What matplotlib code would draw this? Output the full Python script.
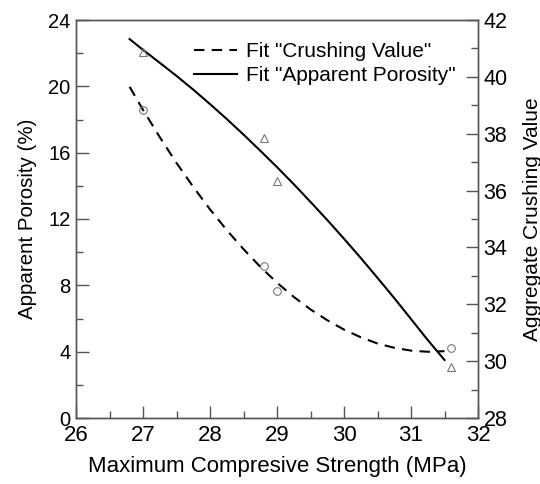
import numpy as np
import matplotlib
matplotlib.use('Agg')
import matplotlib.pyplot as plt
from matplotlib.ticker import MultipleLocator

plt.rcParams['font.family'] = ['Liberation Sans', 'DejaVu Sans']

# measured points
strength = [27.0, 28.8, 29.0, 31.6]
porosity = [22.1, 16.9, 14.3, 3.05]
crushing = [38.85, 33.35, 32.45, 30.45]

# fit curves
fit_x = [26.8, 27.0, 27.25, 27.5, 27.75, 28.0, 28.25, 28.5, 28.75, 29.0, 29.25,
         29.5, 29.75, 30.0, 30.25, 30.5, 30.75, 31.0, 31.25, 31.5]
fit_por = [22.85, 22.2, 21.42, 20.63, 19.8, 18.93, 18.03, 17.09, 16.12, 15.13, 14.1,
           13.03, 11.94, 10.81, 9.65, 8.45, 7.23, 5.97, 4.7, 3.5]
fit_cru = [39.65, 38.84, 37.88, 36.97, 36.13, 35.34, 34.61, 33.94, 33.32, 32.76, 32.26,
           31.82, 31.44, 31.11, 30.84, 30.62, 30.47, 30.37, 30.33, 30.35]

gray = '#555555'

fig = plt.figure(figsize=(5.4, 4.84), dpi=100)
ax = fig.add_axes([76/540, 1-418/484, (478-76)/540, (418-20)/484])
ax2 = ax.twinx()

l1, = ax2.plot(fit_x, fit_cru, color='black', lw=1.5, ls=(0, (5, 3.5)),
               label='Fit "Crushing Value"')
l2, = ax.plot(fit_x, fit_por, color='black', lw=1.5,
              label='Fit "Apparent Porosity"')
ax.plot(strength, porosity, ls='none', marker='^', ms=6, mfc='none',
        mec='#777777', mew=0.8)
ax2.plot(strength, crushing, ls='none', marker='o', ms=5.5, mfc='none',
         mec='#777777', mew=0.8)

ax.set_xlim(26, 32)
ax.set_ylim(0, 24)
ax2.set_ylim(28, 42)
ax.xaxis.set_major_locator(MultipleLocator(1))
ax.xaxis.set_minor_locator(MultipleLocator(0.5))
ax.yaxis.set_major_locator(MultipleLocator(4))
ax.yaxis.set_minor_locator(MultipleLocator(2))
ax2.yaxis.set_major_locator(MultipleLocator(2))
ax2.yaxis.set_minor_locator(MultipleLocator(1))

for a in (ax, ax2):
    for s in a.spines.values():
        s.set_color(gray)
        s.set_linewidth(1.0)
    a.tick_params(which='both', direction='in', color=gray)
    a.tick_params(which='major', length=9, width=1.0)
    a.tick_params(which='minor', length=5, width=1.0)
ax.tick_params(axis='x', pad=5, labelsize=16)
ax.tick_params(axis='y', pad=4, labelsize=14.5)
ax2.tick_params(axis='y', pad=4, labelsize=15.5)

ax.set_xlabel('Maximum Compresive Strength (MPa)', fontsize=16, labelpad=7)
ax.set_ylabel('Apparent Porosity (%)', fontsize=14.8, labelpad=8)
# the reference cuts this label at the right edge
ax2.set_ylabel('Aggregate Crushing Value', fontsize=15, rotation=90, labelpad=11)

ax.legend(handles=[l1, l2], loc='upper right', bbox_to_anchor=(0.945, 0.945),
          frameon=False, fontsize=15, handlelength=2.1, handletextpad=0.43,
          labelspacing=0.25, borderaxespad=0, borderpad=0)

fig.savefig('out.png', dpi=100)
